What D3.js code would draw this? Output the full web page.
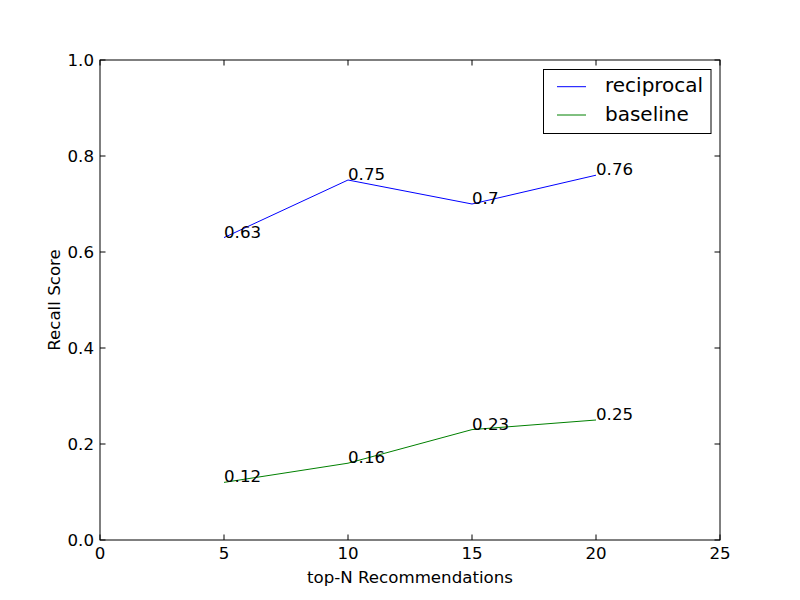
<!DOCTYPE html>
<html><head><meta charset="utf-8">
<script src="https://cdn.jsdelivr.net/npm/d3@7"></script>
<style>body{margin:0;background:#fff}text{font-family:"DejaVu Sans",sans-serif}</style>
</head><body><svg id="c" width="800" height="600"></svg>
<script>
const xValues = [5, 10, 15, 20];
const reciprocal = [0.63, 0.75, 0.70, 0.76];
const baseline = [0.12, 0.16, 0.23, 0.25];
const reciprocalLabels = ["0.63", "0.75", "0.7", "0.76"];
const baselineLabels = ["0.12", "0.16", "0.23", "0.25"];
const xTicks = [0, 5, 10, 15, 20, 25];
const yTicks = [0, 0.2, 0.4, 0.6, 0.8, 1.0];
const yTickLabels = ["0.0", "0.2", "0.4", "0.6", "0.8", "1.0"];

const svg = d3.select("#c");
const L = 100, R = 720, T = 60, B = 540;
const FS = 16.67;
const x = d3.scaleLinear().domain([0, 25]).range([L, R]);
const y = d3.scaleLinear().domain([0, 1]).range([B, T]);

const series = [
  {name: "reciprocal", vals: reciprocal, labels: reciprocalLabels, color: "#0000ff"},
  {name: "baseline", vals: baseline, labels: baselineLabels, color: "#008000"}
];
const line = d3.line().x((d, i) => x(xValues[i])).y(d => y(d));
series.forEach(s => {
  svg.append("path").attr("d", line(s.vals)).attr("fill", "none")
    .attr("stroke", s.color).attr("stroke-width", 1);
  s.vals.forEach((v, i) => {
    svg.append("text").attr("x", x(xValues[i])).attr("y", y(v))
      .attr("font-size", FS).attr("fill", "#000").text(s.labels[i]);
  });
});

// frame
svg.append("rect").attr("x", L).attr("y", T).attr("width", R - L).attr("height", B - T)
  .attr("fill", "none").attr("stroke", "#000").attr("stroke-width", 1);

const tl = 5.5;
xTicks.forEach(t => {
  svg.append("line").attr("x1", x(t)).attr("x2", x(t)).attr("y1", B).attr("y2", B - tl).attr("stroke", "#000");
  svg.append("line").attr("x1", x(t)).attr("x2", x(t)).attr("y1", T).attr("y2", T + tl).attr("stroke", "#000");
  svg.append("text").attr("x", x(t)).attr("y", B + 19).attr("text-anchor", "middle")
    .attr("font-size", FS).text(t);
});
yTicks.forEach((t, i) => {
  svg.append("line").attr("x1", L).attr("x2", L + tl).attr("y1", y(t)).attr("y2", y(t)).attr("stroke", "#000");
  svg.append("line").attr("x1", R).attr("x2", R - tl).attr("y1", y(t)).attr("y2", y(t)).attr("stroke", "#000");
  svg.append("text").attr("x", L - 6).attr("y", y(t) + 6).attr("text-anchor", "end")
    .attr("font-size", FS).text(yTickLabels[i]);
});

svg.append("text").attr("x", (L + R) / 2).attr("y", 583).attr("text-anchor", "middle")
  .attr("font-size", FS).text("top-N Recommendations");
svg.append("text").attr("transform", `translate(60,${(T + B) / 2}) rotate(-90)`)
  .attr("text-anchor", "middle").attr("font-size", FS).text("Recall Score");

// legend
const lg = svg.append("g");
lg.append("rect").attr("x", 543.5).attr("y", 69.5).attr("width", 167.5).attr("height", 64)
  .attr("fill", "#fff").attr("stroke", "#000");
series.forEach((s, i) => {
  const yy = 86.7 + i * 28.3;
  lg.append("line").attr("x1", 557).attr("x2", 586).attr("y1", yy).attr("y2", yy)
    .attr("stroke", s.color);
  lg.append("text").attr("x", 605).attr("y", yy + 5.5).attr("font-size", 20).text(s.name);
});
</script></body></html>
